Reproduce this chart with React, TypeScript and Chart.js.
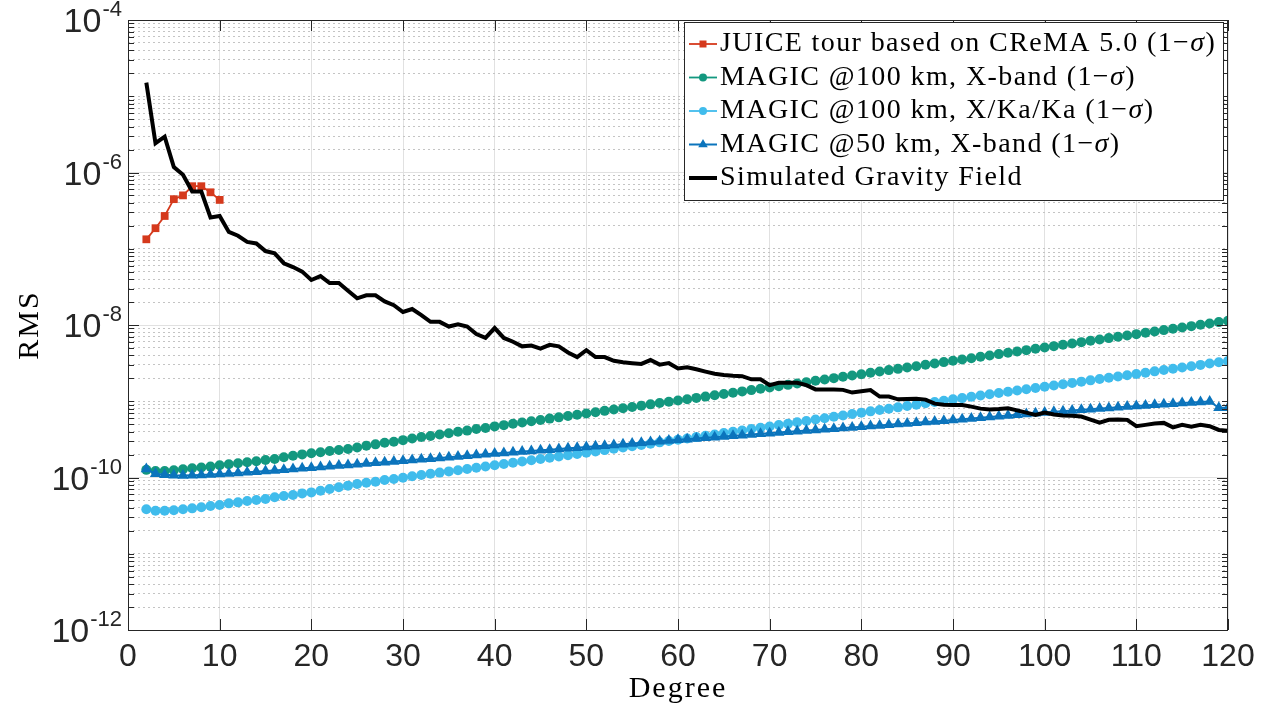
import React, { useEffect, useRef } from 'react';
import { Chart, registerables } from 'chart.js';

Chart.register(...registerables);

// ---------- data ----------
const juiceDegrees = [2, 3, 4, 5, 6, 7, 8, 9, 10];
const juiceRms = [1.33e-7, 1.86e-7, 2.69e-7, 4.47e-7, 5.01e-7, 6.61e-7, 6.61e-7, 5.5e-7, 4.37e-7];

const degrees = [
  2, 3, 4, 5, 6, 7, 8, 9, 10, 11, 12, 13, 14, 15, 16, 17, 18, 19, 20, 21, 22, 23, 24, 25, 26, 27, 28, 29, 30,
  31, 32, 33, 34, 35, 36, 37, 38, 39, 40, 41, 42, 43, 44, 45, 46, 47, 48, 49, 50, 51, 52, 53, 54, 55, 56, 57, 58,
  59, 60, 61, 62, 63, 64, 65, 66, 67, 68, 69, 70, 71, 72, 73, 74, 75, 76, 77, 78, 79, 80, 81, 82, 83, 84, 85, 86,
  87, 88, 89, 90, 91, 92, 93, 94, 95, 96, 97, 98, 99, 100, 101, 102, 103, 104, 105, 106, 107, 108, 109, 110, 111,
  112, 113, 114, 115, 116, 117, 118, 119, 120,
];

const magic100X = [
  1.26e-10, 1.22e-10, 1.22e-10, 1.245e-10, 1.28e-10, 1.32e-10, 1.35e-10, 1.39e-10, 1.445e-10, 1.49e-10,
  1.535e-10, 1.585e-10, 1.63e-10, 1.7e-10, 1.75e-10, 1.84e-10, 1.93e-10, 2.01e-10, 2.075e-10, 2.14e-10,
  2.23e-10, 2.3e-10, 2.37e-10, 2.48e-10, 2.61e-10, 2.72e-10, 2.86e-10, 2.95e-10, 3.09e-10,
  3.24e-10, 3.39e-10, 3.51e-10, 3.66e-10, 3.8e-10, 3.98e-10, 4.12e-10, 4.32e-10, 4.47e-10, 4.68e-10,
  4.86e-10, 5.06e-10, 5.25e-10, 5.47e-10, 5.69e-10, 5.92e-10, 6.15e-10, 6.4e-10, 6.65e-10, 6.92e-10,
  7.19e-10, 7.48e-10, 7.78e-10, 8.09e-10, 8.41e-10, 8.75e-10, 9.1e-10, 9.46e-10, 9.84e-10, 1.023e-9,
  1.064e-9, 1.107e-9, 1.151e-9, 1.197e-9, 1.245e-9, 1.294e-9, 1.346e-9, 1.4e-9, 1.455e-9, 1.514e-9,
  1.578e-9, 1.64e-9, 1.71e-9, 1.778e-9, 1.853e-9, 1.928e-9, 2.01e-9, 2.09e-9, 2.18e-9, 2.265e-9,
  2.36e-9, 2.455e-9, 2.56e-9, 2.66e-9, 2.77e-9, 2.88e-9, 3.01e-9, 3.13e-9, 3.26e-9, 3.39e-9,
  3.53e-9, 3.67e-9, 3.83e-9, 3.98e-9, 4.15e-9, 4.32e-9, 4.5e-9, 4.68e-9, 4.88e-9, 5.07e-9,
  5.28e-9, 5.5e-9, 5.73e-9, 5.96e-9, 6.21e-9, 6.46e-9, 6.73e-9, 7.0e-9, 7.29e-9, 7.59e-9,
  7.91e-9, 8.22e-9, 8.57e-9, 8.91e-9, 9.29e-9, 9.66e-9, 1.007e-8, 1.047e-8, 1.091e-8, 1.135e-8,
];

const magic100XKa = [
  3.83e-11, 3.67e-11, 3.67e-11, 3.72e-11, 3.83e-11, 3.94e-11, 4.07e-11, 4.23e-11, 4.37e-11, 4.58e-11,
  4.72e-11, 4.92e-11, 5.07e-11, 5.22e-11, 5.5e-11, 5.71e-11, 5.89e-11, 6.19e-11, 6.38e-11, 6.71e-11,
  7.06e-11, 7.43e-11, 7.82e-11, 8.22e-11, 8.55e-11, 8.81e-11, 9.27e-11, 9.55e-11, 9.9e-11,
  1.038e-10, 1.076e-10, 1.117e-10, 1.159e-10, 1.202e-10, 1.247e-10, 1.294e-10, 1.343e-10, 1.393e-10, 1.445e-10,
  1.501e-10, 1.56e-10, 1.62e-10, 1.683e-10, 1.748e-10, 1.816e-10, 1.886e-10, 1.959e-10, 2.035e-10, 2.113e-10,
  2.198e-10, 2.286e-10, 2.377e-10, 2.472e-10, 2.57e-10, 2.673e-10, 2.78e-10, 2.891e-10, 3.006e-10, 3.126e-10,
  3.255e-10, 3.388e-10, 3.527e-10, 3.673e-10, 3.824e-10, 3.981e-10, 4.145e-10, 4.315e-10, 4.492e-10, 4.677e-10,
  4.875e-10, 5.08e-10, 5.3e-10, 5.52e-10, 5.75e-10, 6.0e-10, 6.25e-10, 6.52e-10, 6.79e-10, 7.08e-10,
  7.37e-10, 7.67e-10, 7.99e-10, 8.32e-10, 8.66e-10, 9.02e-10, 9.39e-10, 9.77e-10, 1.017e-9, 1.059e-9,
  1.1e-9, 1.143e-9, 1.187e-9, 1.233e-9, 1.281e-9, 1.33e-9, 1.382e-9, 1.435e-9, 1.49e-9, 1.549e-9,
  1.61e-9, 1.675e-9, 1.738e-9, 1.807e-9, 1.879e-9, 1.954e-9, 2.028e-9, 2.109e-9, 2.193e-9, 2.28e-9,
  2.371e-9, 2.466e-9, 2.564e-9, 2.667e-9, 2.773e-9, 2.884e-9, 2.999e-9, 3.119e-9, 3.243e-9, 3.373e-9,
];

const magic50X = [
  1.288e-10, 1.122e-10, 1.084e-10, 1.067e-10, 1.059e-10, 1.067e-10, 1.076e-10, 1.091e-10, 1.109e-10, 1.13e-10,
  1.148e-10, 1.169e-10, 1.191e-10, 1.213e-10, 1.239e-10, 1.265e-10, 1.291e-10, 1.318e-10, 1.346e-10, 1.374e-10,
  1.403e-10, 1.432e-10, 1.462e-10, 1.493e-10, 1.524e-10, 1.556e-10, 1.589e-10, 1.622e-10, 1.656e-10,
  1.692e-10, 1.73e-10, 1.768e-10, 1.807e-10, 1.847e-10, 1.888e-10, 1.93e-10, 1.972e-10, 2.016e-10, 2.061e-10,
  2.101e-10, 2.143e-10, 2.185e-10, 2.228e-10, 2.272e-10, 2.317e-10, 2.363e-10, 2.41e-10, 2.458e-10, 2.506e-10,
  2.562e-10, 2.618e-10, 2.676e-10, 2.735e-10, 2.796e-10, 2.858e-10, 2.921e-10, 2.985e-10, 3.051e-10, 3.119e-10,
  3.184e-10, 3.249e-10, 3.316e-10, 3.384e-10, 3.451e-10, 3.523e-10, 3.595e-10, 3.669e-10, 3.744e-10, 3.819e-10,
  3.893e-10, 3.968e-10, 4.045e-10, 4.123e-10, 4.203e-10, 4.284e-10, 4.367e-10, 4.451e-10, 4.537e-10, 4.624e-10,
  4.719e-10, 4.816e-10, 4.915e-10, 5.015e-10, 5.117e-10, 5.222e-10, 5.329e-10, 5.438e-10, 5.549e-10, 5.662e-10,
  5.794e-10, 5.929e-10, 6.067e-10, 6.209e-10, 6.353e-10, 6.501e-10, 6.653e-10, 6.808e-10, 6.966e-10, 7.129e-10,
  7.27e-10, 7.413e-10, 7.56e-10, 7.709e-10, 7.862e-10, 8.017e-10, 8.176e-10, 8.337e-10, 8.502e-10, 8.67e-10,
  8.821e-10, 8.974e-10, 9.13e-10, 9.29e-10, 9.451e-10, 9.616e-10, 9.784e-10, 9.954e-10, 8.22e-10, 8.22e-10,
];

const simulatedField = [
  1.51e-5, 2.42e-6, 2.95e-6, 1.175e-6, 9.33e-7, 5.62e-7, 5.62e-7, 2.57e-7, 2.69e-7, 1.66e-7,
  1.48e-7, 1.23e-7, 1.175e-7, 9.33e-8, 8.71e-8, 6.46e-8, 5.75e-8, 5.01e-8, 3.89e-8, 4.37e-8,
  3.55e-8, 3.55e-8, 2.82e-8, 2.24e-8, 2.45e-8, 2.45e-8, 2.04e-8, 1.82e-8, 1.48e-8,
  1.62e-8, 1.35e-8, 1.1e-8, 1.1e-8, 9.55e-9, 1.02e-8, 9.55e-9, 7.59e-9, 6.76e-9, 9.12e-9,
  6.76e-9, 6.03e-9, 5.25e-9, 5.37e-9, 4.9e-9, 5.5e-9, 5.25e-9, 4.37e-9, 3.8e-9, 4.68e-9,
  3.8e-9, 3.8e-9, 3.39e-9, 3.24e-9, 3.16e-9, 3.09e-9, 3.47e-9, 3.02e-9, 3.16e-9, 2.69e-9,
  2.79e-9, 2.63e-9, 2.45e-9, 2.29e-9, 2.21e-9, 2.16e-9, 2.13e-9, 1.94e-9, 1.94e-9, 1.63e-9,
  1.75e-9, 1.75e-9, 1.75e-9, 1.63e-9, 1.43e-9, 1.43e-9, 1.43e-9, 1.41e-9, 1.3e-9, 1.35e-9,
  1.4e-9, 1.15e-9, 1.15e-9, 1.06e-9, 1.07e-9, 1.08e-9, 1.05e-9, 9.3e-10, 9.0e-10, 8.9e-10,
  8.9e-10, 8.5e-10, 8.0e-10, 7.8e-10, 7.9e-10, 8.1e-10, 7.6e-10, 7.1e-10, 6.6e-10, 7.1e-10,
  6.7e-10, 6.5e-10, 6.45e-10, 6.3e-10, 5.75e-10, 5.25e-10, 5.7e-10, 5.75e-10, 5.7e-10, 4.7e-10,
  4.9e-10, 5.1e-10, 5.2e-10, 4.55e-10, 4.9e-10, 4.65e-10, 4.9e-10, 4.7e-10, 4.2e-10, 4.1e-10,
];

const seriesLabels = [
  'JUICE tour based on CReMA 5.0 (1\u2212\u03c3)',
  'MAGIC @100 km, X-band (1\u2212\u03c3)',
  'MAGIC @100 km, X/Ka/Ka (1\u2212\u03c3)',
  'MAGIC @50 km, X-band (1\u2212\u03c3)',
  'Simulated Gravity Field',
];

const xTicks = [0, 10, 20, 30, 40, 50, 60, 70, 80, 90, 100, 110, 120];
const yTickExponents = [-4, -6, -8, -10, -12];
const yMinorMultipliers = [2, 3, 4, 5, 6, 7, 8, 9];
const xTitle = 'Degree';
const yTitle = 'RMS';

// ---------- styles ----------
const COLORS = ['#D5391C', '#13987F', '#40BCEC', '#0B74BC', '#000000'];
const AXIS_COLOR = '#262626';
const SANS = '"Liberation Sans", Arial, sans-serif';
const SERIF = '"Liberation Serif", "Times New Roman", serif';

const yGridValues: number[] = (() => {
  const out: number[] = [];
  for (let k = -12; k <= -4; k++) {
    out.push(Math.pow(10, k));
    if (k < -4) yMinorMultipliers.forEach((m) => out.push(m * Math.pow(10, k)));
  }
  return out;
})();

const isMajorY = (v: number) => {
  const l = Math.log10(v);
  const r = Math.round(l);
  return Math.abs(l - r) < 1e-6 && yTickExponents.includes(r);
};

const pts = (xs: number[], ys: number[]) => xs.map((x, i) => ({ x, y: ys[i] }));

function drawMarker(ctx: CanvasRenderingContext2D, style: string, x: number, y: number, r: number) {
  ctx.beginPath();
  if (style === 'circle') {
    ctx.arc(x, y, r, 0, Math.PI * 2);
  } else if (style === 'rect') {
    ctx.rect(x - r, y - r, 2 * r, 2 * r);
  } else if (style === 'triangle') {
    ctx.moveTo(x, y - r);
    ctx.lineTo(x + r * 0.866, y + r * 0.5);
    ctx.lineTo(x - r * 0.866, y + r * 0.5);
    ctx.closePath();
  }
  ctx.fill();
}

const framePlugin = {
  id: 'matlabFrame',
  afterDatasetsDraw(chart: any) {
    const { ctx, chartArea: a, scales } = chart;
    const xs = scales.x;
    const ys = scales.y;
    ctx.save();
    ctx.strokeStyle = AXIS_COLOR;
    ctx.lineWidth = 1;
    yGridValues.forEach((v) => {
      const py = Math.round(ys.getPixelForValue(v)) + 0.5;
      const len = isMajorY(v) ? 11 : 6;
      ctx.beginPath();
      ctx.moveTo(a.left, py);
      ctx.lineTo(a.left + len, py);
      ctx.moveTo(a.right, py);
      ctx.lineTo(a.right - len, py);
      ctx.stroke();
    });
    xTicks.forEach((d) => {
      const px = Math.round(xs.getPixelForValue(d)) + 0.5;
      ctx.beginPath();
      ctx.moveTo(px, a.bottom);
      ctx.lineTo(px, a.bottom - 11);
      ctx.moveTo(px, a.top);
      ctx.lineTo(px, a.top + 11);
      ctx.stroke();
    });
    ctx.strokeRect(a.left + 0.5, a.top + 0.5, a.right - a.left - 1, a.bottom - a.top);
    ctx.restore();
  },
  afterDraw(chart: any) {
    const { ctx, chartArea: a, scales } = chart;
    const ys = scales.y;
    ctx.save();
    // y tick labels with superscript exponents
    ctx.fillStyle = AXIS_COLOR;
    ctx.textAlign = 'right';
    ctx.textBaseline = 'alphabetic';
    yTickExponents.forEach((e) => {
      const py = ys.getPixelForValue(Math.pow(10, e));
      const expText = String(e);
      ctx.font = `22px ${SANS}`;
      const right = a.left - 6;
      const ew = ctx.measureText(expText).width;
      ctx.fillText(expText, right, py - 4);
      ctx.font = `34px ${SANS}`;
      ctx.fillText('10', right - ew - 1, py + 12);
    });

    // axis titles
    ctx.fillStyle = '#000';
    (ctx as any).letterSpacing = '2px';
    ctx.font = `30px ${SERIF}`;
    ctx.textAlign = 'center';
    ctx.textBaseline = 'middle';
    ctx.fillText(xTitle, (a.left + a.right) / 2, 689);
    ctx.save();
    ctx.translate(30, (a.top + a.bottom) / 2);
    ctx.rotate(-Math.PI / 2);
    ctx.fillText(yTitle, 0, 0);
    ctx.restore();

    // legend
    const box = { left: 684, right: 1223, top: 22, bottom: 200 };
    ctx.fillStyle = '#fff';
    ctx.fillRect(box.left, box.top, box.right - box.left, box.bottom - box.top);
    ctx.strokeStyle = AXIS_COLOR;
    ctx.lineWidth = 1;
    ctx.strokeRect(box.left + 0.5, box.top + 0.5, box.right - box.left, box.bottom - box.top);
    const rowStart = 44;
    const rowGap = 33.5;
    chart.data.datasets.forEach((ds: any, i: number) => {
      const ry = rowStart + i * rowGap;
      ctx.strokeStyle = ds.borderColor;
      ctx.lineWidth = ds.borderWidth;
      ctx.beginPath();
      ctx.moveTo(689, ry);
      ctx.lineTo(717, ry);
      ctx.stroke();
      if (ds.pointRadius > 0) {
        ctx.fillStyle = ds.borderColor;
        drawMarker(ctx, ds.pointStyle, 703, ry, ds.pointStyle === 'rect' ? 3.5 : ds.pointRadius - 1);
      }
      ctx.fillStyle = '#000';
      ctx.textAlign = 'left';
      ctx.textBaseline = 'middle';
      (ctx as any).letterSpacing = '1.4px';
      const label: string = ds.label;
      const sIdx = label.indexOf('\u03c3');
      let tx = 720;
      if (sIdx >= 0) {
        const pre = label.slice(0, sIdx);
        const post = label.slice(sIdx + 1);
        ctx.font = `28px ${SERIF}`;
        ctx.fillText(pre, tx, ry);
        tx += ctx.measureText(pre).width;
        ctx.font = `italic 28px ${SERIF}`;
        ctx.fillText('\u03c3', tx, ry);
        tx += ctx.measureText('\u03c3').width;
        ctx.font = `28px ${SERIF}`;
        ctx.fillText(post, tx, ry);
      } else {
        ctx.font = `28px ${SERIF}`;
        ctx.fillText(label, tx, ry);
      }
    });
    ctx.restore();
  },
};

export default function App() {
  const canvasRef = useRef<HTMLCanvasElement | null>(null);

  useEffect(() => {
    const canvas = canvasRef.current;
    if (!canvas) return;
    const lineDs = (label: string, data: any[], color: string, style: string | false, radius: number, width: number, order: number) => ({
      label,
      data,
      borderColor: color,
      backgroundColor: color,
      pointBackgroundColor: color,
      pointBorderColor: color,
      pointBorderWidth: 0,
      pointStyle: style || 'circle',
      pointRadius: style ? radius : 0,
      borderWidth: width,
      tension: 0,
      order,
    });

    const chart = new Chart(canvas, {
      type: 'line',
      data: {
        datasets: [
          lineDs(seriesLabels[0], pts(juiceDegrees, juiceRms), COLORS[0], 'rect', 5.5, 1.8, 4),
          lineDs(seriesLabels[1], pts(degrees, magic100X), COLORS[1], 'circle', 5, 1.8, 3),
          lineDs(seriesLabels[2], pts(degrees, magic100XKa), COLORS[2], 'circle', 5, 1.8, 2),
          lineDs(seriesLabels[3], pts(degrees, magic50X), COLORS[3], 'triangle', 6.5, 2, 1),
          lineDs(seriesLabels[4], pts(degrees, simulatedField), COLORS[4], false, 0, 4, 0),
        ] as any,
      },
      options: {
        animation: false,
        responsive: false,
        maintainAspectRatio: false,
        layout: { padding: { top: 20, right: 37, left: 0, bottom: 0 } },
        plugins: {
          legend: { display: false },
          tooltip: { enabled: false },
        },
        scales: {
          x: {
            type: 'linear',
            min: 0,
            max: 120,
            afterFit: (s: any) => {
              s.height = 80;
            },
            afterBuildTicks: (s: any) => {
              s.ticks = xTicks.map((v) => ({ value: v }));
            },
            ticks: {
              autoSkip: false,
              maxRotation: 0,
              padding: 8,
              color: AXIS_COLOR,
              font: { family: SANS, size: 32 },
            },
            grid: { color: '#e1e1e1', lineWidth: 1, drawTicks: false },
            border: { display: false },
          },
          y: {
            type: 'logarithmic',
            min: 1e-12,
            max: 1e-4,
            afterFit: (s: any) => {
              s.width = 128;
            },
            afterBuildTicks: (s: any) => {
              s.ticks = yGridValues.map((v) => ({ value: v }));
            },
            ticks: { display: false },
            grid: {
              drawTicks: false,
              lineWidth: 1,
              color: (c: any) => (c.tick && isMajorY(c.tick.value) ? '#e1e1e1' : '#c4c4c4'),
            },
            border: {
              display: false,
              dash: (c: any) => (c.tick && isMajorY(c.tick.value) ? [] : [2, 3]),
            } as any,
          },
        },
      } as any,
      plugins: [framePlugin],
    });
    return () => chart.destroy();
  }, []);

  return (
    <div style={{ position: 'absolute', left: 0, top: 0, width: 1265, height: 710, overflow: 'hidden', background: '#fff' }}>
      <canvas ref={canvasRef} width={1265} height={710} style={{ display: 'block' }} />
    </div>
  );
}
